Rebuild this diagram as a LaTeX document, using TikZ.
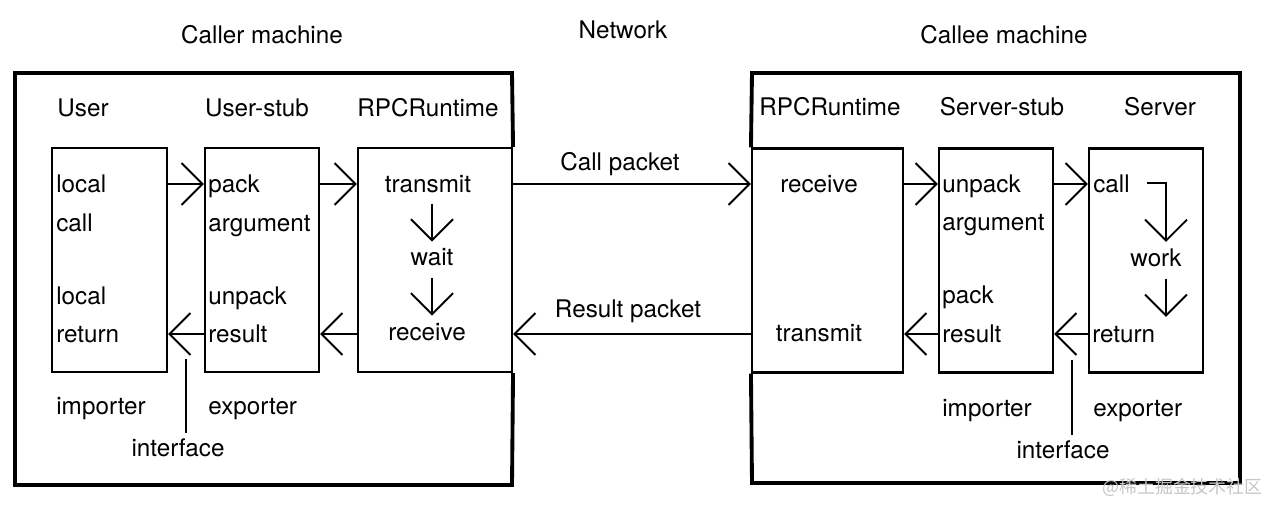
\documentclass[tikz,border=0pt]{standalone}
\usepackage{fontspec}
\setmainfont{TeX Gyre Heros}
\newfontfamily\cjkfont{Noto Sans CJK SC}
\usetikzlibrary{
	arrows.meta,   %箭头
	positioning    %定位
}
\tikzset{
	every picture/.style={
		>={Straight Barb[length=4.2mm,width=8.4mm]}
	},
	machine/.style={line width=2.2pt},
	box/.style={draw,line width=1.2pt,minimum height=4.48cm,inner sep=0pt},
	txt/.style={inner sep=0pt,font=\fontsize{13.8}{16}\selectfont},
	flow/.style={->,line width=1.1pt},
	iface/.style={line width=1.1pt}
}

\begin{document}
\begin{tikzpicture}[x=0.02cm,y=-0.02cm]
\useasboundingbox (0,0) rectangle (1279,512);
%两条水平线的高度
\coordinate (rowcall) at (0,184);
\coordinate (rowret) at (0,334);
%标题
\node[txt,anchor=base] (caller) at (262,43) {Caller machine};
\node[txt,anchor=base] (net) at (623,38) {Network};
\node[txt,anchor=base] (callee) at (1004,43) {Callee machine};
%调用方的三个框
\node[box,minimum width=2.3cm] (user) at (109.5,260) {};
\node[box,minimum width=2.28cm] (ustub) at (262,260) {};
\node[box,minimum width=3.08cm] (crpc) at (435,260) {};
\draw[machine] (crpc.north east) -- (512,73) -- (15,73) -- (15,485) -- (512,485) -- (crpc.south east);
\node[txt,anchor=base] (huser) at (83,116) {User};
\node[txt,anchor=base] (hustub) at (257,116) {User-stub};
\node[txt,anchor=base] (hcrpc) at (428,116) {RPCRuntime};
%User
\node[txt,anchor=base west] (ulocal) at (56,192) {local};
\node[txt,anchor=base west] (ucall) at (56,231) {call};
\node[txt,anchor=base west] (ulocalb) at (56,304) {local};
\node[txt,anchor=base west] (uret) at (56,342) {return};
%User-stub
\node[txt,anchor=base west] (upack) at (208,192) {pack};
\node[txt,anchor=base west] (uarg) at (208,231) {argument};
\node[txt,anchor=base west] (uunpack) at (208,304) {unpack};
\node[txt,anchor=base west] (ures) at (208,342) {result};
%RPCRuntime
\node[txt,anchor=base] (ctrans) at (428,192) {transmit};
\node[txt,anchor=base] (cwait) at (432,265) {wait};
\node[txt,anchor=base] (crecv) at (427,340) {receive};
\draw[flow,shorten <=0.22cm,shorten >=0.12cm] (cwait.north |- ctrans.south) -- (cwait.north);
\draw[flow,shorten <=0.24cm,shorten >=0.14cm] (cwait.south) -- (cwait.south |- crecv.north);
%调用方的箭头
\draw[flow] (user.east |- rowcall) -- (ustub.west |- rowcall);
\draw[flow] (ustub.east |- rowcall) -- (crpc.west |- rowcall);
\draw[flow] (crpc.west |- rowret) -- (ustub.east |- rowret);
\draw[flow] (ustub.west |- rowret) -- (user.east |- rowret);
%importer, exporter, interface
\node[txt,anchor=base west] (uimp) at (56,414) {importer};
\node[txt,anchor=base west] (uexp) at (208,414) {exporter};
\node[txt,anchor=base] (uif) at (178,456) {interface};
\coordinate (uiftop) at (186,359);
\draw[iface,shorten <=0.1cm] (uiftop |- uif.north) -- (uiftop);

%被调用方的三个框
\node[box,minimum width=3.02cm] (srpc) at (827.5,260.5) {};
\node[box,minimum width=2.28cm] (sstub) at (996,260.5) {};
\node[box,minimum width=2.28cm] (server) at (1146,260.5) {};
\draw[machine] (srpc.north west) -- (752,73) -- (1240,73) -- (1240,483) -- (752,483) -- (srpc.south west);
\node[txt,anchor=base] (hsrpc) at (830,115) {RPCRuntime};
\node[txt,anchor=base] (hsstub) at (1002,115) {Server-stub};
\node[txt,anchor=base] (hserver) at (1160,115) {Server};
%RPCRuntime
\node[txt,anchor=base] (srecv) at (819,192) {receive};
\node[txt,anchor=base] (strans) at (819,341) {transmit};
%Server-stub
\node[txt,anchor=base west] (sunpack) at (942,192) {unpack};
\node[txt,anchor=base west] (sarg) at (942,230) {argument};
\node[txt,anchor=base west] (spack) at (942,303) {pack};
\node[txt,anchor=base west] (sres) at (942,342) {result};
%Server
\node[txt,anchor=base west] (scall) at (1093,192) {call};
\node[txt,anchor=base] (swork) at (1156,266) {work};
\node[txt,anchor=base west] (sret) at (1092,342) {return};
\coordinate (workn) at ([xshift=0.2cm]swork.north);
\coordinate (works) at ([xshift=0.2cm]swork.south);
\draw[flow,shorten <=0.34cm,shorten >=0.12cm] (scall.east) -| (workn);
\draw[flow,shorten <=0.24cm,shorten >=0.17cm] (works) -- (works |- sret.north);
%被调用方的箭头
\draw[flow] (srpc.east |- rowcall) -- (sstub.west |- rowcall);
\draw[flow] (sstub.east |- rowcall) -- (server.west |- rowcall);
\draw[flow] (server.west |- rowret) -- (sstub.east |- rowret);
\draw[flow] (sstub.west |- rowret) -- (srpc.east |- rowret);
%importer, exporter, interface
\node[txt,anchor=base west] (simp) at (942,416) {importer};
\node[txt,anchor=base west] (sexp) at (1093,416) {exporter};
\node[txt,anchor=base] (sif) at (1063,458) {interface};
\coordinate (siftop) at (1072,360);
\draw[iface,shorten <=0.1cm] (siftop |- sif.north) -- (siftop);

%网络上的两个包
\draw[flow] (crpc.east |- rowcall) -- (srpc.west |- rowcall);
\draw[flow] (srpc.west |- rowret) -- (crpc.east |- rowret);
\node[txt,anchor=base] (callpk) at (620,170) {Call packet};
\node[txt,anchor=base] (respk) at (628,317) {Result packet};
%水印
\node[anchor=base west,inner sep=0pt,text=gray!45,font=\cjkfont\fontsize{10.2}{12}\selectfont] (mark) at (1102,493) {@稀土掘金技术社区};
\end{tikzpicture}
\end{document}
